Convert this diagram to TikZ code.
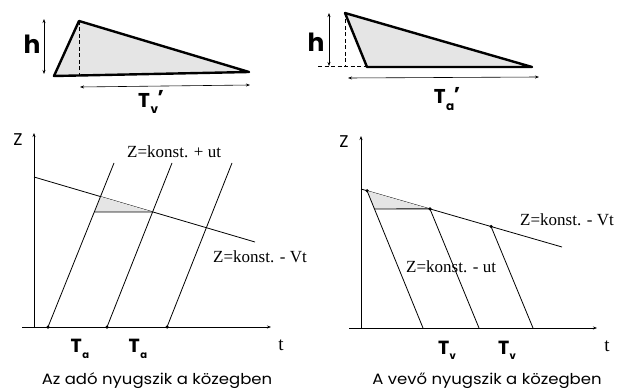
\documentclass[tikz,border=0pt]{standalone}
\usepackage{fontspec}
\setmainfont{Liberation Serif}
\newfontfamily\gothic{Poppins}
\usetikzlibrary{arrows.meta,calc}
\newcommand{\subT}[2]{T\kern0.5pt\raisebox{-0.28em}{\fontsize{#2}{#2}\selectfont #1}}
\newcommand{\subTp}[2]{T\kern0.5pt\raisebox{-0.32em}{\fontsize{#2}{#2}\selectfont #1}\kern-0.5pt\raisebox{0.12em}{’}}
\begin{document}
\begin{tikzpicture}[x=1pt,y=-1pt,
  thin line/.style={line width=0.8pt},
  tri/.style={line width=2.4pt,line join=round,fill=black!10},
  dimarrow/.style={line width=0.6pt,{Stealth[length=4pt,width=3pt]}-{Stealth[length=4pt,width=3pt]}},
  axis/.style={line width=0.8pt,-{Stealth[length=4pt,width=3pt]}},
  dashline/.style={line width=0.8pt,dashed,dash pattern=on 4pt off 2.5pt},
  eqlabel/.style={font=\fontsize{17}{17}\selectfont,inner sep=0pt,anchor=west},
  biglabel/.style={font=\gothic\bfseries\fontsize{25}{25}\selectfont,inner sep=0pt},
  toplabel/.style={font=\gothic\bfseries\fontsize{20}{20}\selectfont,inner sep=0pt},
  tlabel/.style={font=\gothic\bfseries\fontsize{19}{19}\selectfont,inner sep=0pt},
  caption/.style={font=\gothic\fontsize{15}{15}\selectfont,inner sep=0pt},
  axlabel/.style={font=\gothic\fontsize{17}{17}\selectfont,inner sep=0pt},
  tax/.style={font=\fontsize{19}{19}\selectfont,inner sep=0pt},
  dot/.style={circle,fill=black,inner sep=0pt,minimum size=3.5pt}]
\useasboundingbox (0,0) rectangle (618,390);

% ---------- top-left triangle ----------
\coordinate (tlA) at (54,76);
\coordinate (tlP) at (79,21);
\coordinate (tlB) at (249,72);
\coordinate (tlF) at (79,75);
\draw[tri] (tlA) -- (tlP) -- (tlB) -- cycle;
\draw[dashline] (tlP) -- (tlF);
\coordinate (tlh1) at (44,19);
\coordinate (tlh2) at (44,74);
\draw[dimarrow] (tlh1) -- (tlh2);
\node[biglabel] (tlh) at (32,44) {h};
\coordinate (tlw1) at (80,87);
\coordinate (tlw2) at (250,85);
\draw[dimarrow] (tlw1) -- (tlw2);
\node[toplabel] (tlT) at (151,102) {\subTp{v}{12}};

% ---------- top-right triangle ----------
\coordinate (trP) at (345,13);
\coordinate (trA) at (367,67);
\coordinate (trB) at (532,67);
\coordinate (trF) at (345,66);
\coordinate (trL) at (318,66);
\coordinate (trA2) at (367,66);
\draw[tri] (trA) -- (trP) -- (trB) -- cycle;
\draw[dashline] (trP) -- (trF);
\draw[dashline] (trL) -- (trA2);
\coordinate (trh1) at (329,13);
\coordinate (trh2) at (329,66);
\draw[dimarrow] (trh1) -- (trh2);
\node[biglabel] (trh) at (316,42) {h};
\coordinate (trw1) at (348,78);
\coordinate (trw2) at (539,77);
\draw[dimarrow] (trw1) -- (trw2);
\node[toplabel] (trT) at (447,99) {\subTp{a}{12}};

% ---------- bottom-left diagram ----------
\coordinate (blO) at (34,328);
\coordinate (blZ) at (34,133);
\coordinate (blt0) at (22,327);
\coordinate (blt1) at (271,327);
\draw[axis] (blO) -- (blZ);
\draw[axis] (blt0) -- (blt1);
\node[axlabel] (blZl) at (18,140) {Z};
\node[tax] (bltl) at (281,345) {t};

\coordinate (blU1) at (34,177);
\coordinate (blU2) at (255,242);
\draw[thin line] (blU1) -- (blU2);

\node[dot] (bld1) at (48,327) {};
\node[dot] (bld2) at (107,327) {};
\node[dot] (bld3) at (167,327) {};
\coordinate (ble1) at (114,163);
\coordinate (ble2) at (172,163);
\coordinate (ble3) at (232,163);

\coordinate (blX1) at (intersection of bld1.center--ble1 and blU1--blU2);
\coordinate (blX2) at (intersection of bld2.center--ble2 and blU1--blU2);
\coordinate (blX2b) at ($(blX2)+(-100,0)$);
\coordinate (blX3) at (intersection of bld1.center--ble1 and blX2--blX2b);
\fill[black!10] (blX1) -- (blX3) -- (blX2) -- cycle;
\draw[thin line] (blX3) -- (blX2);
\draw[thin line] (bld1.center) -- (ble1);
\draw[thin line] (bld2.center) -- (ble2);
\draw[thin line] (bld3.center) -- (ble3);

\node[eqlabel] (blq1) at (127,152) {Z=konst. + ut};
\node[eqlabel] (blq2) at (213,257) {Z=konst. - Vt};
\node[tlabel] (blTa1) at (80,349) {\subT{a}{10}};
\node[tlabel] (blTa2) at (138,349) {\subT{a}{10}};
\node[caption] (blcap) at (157,381) {\scalebox{1.1}[1]{Az adó nyugszik a közegben}};

% ---------- bottom-right diagram ----------
\coordinate (brO) at (361,328);
\coordinate (brZ) at (361,136);
\coordinate (brt0) at (349,328);
\coordinate (brt1) at (597,328);
\draw[axis] (brO) -- (brZ);
\draw[axis] (brt0) -- (brt1);
\node[axlabel] (brZl) at (344,142) {Z};
\node[tax] (brtl) at (607,346) {t};

\coordinate (brU1) at (361,189);
\coordinate (brU2) at (562,247);
\draw[thin line] (brU1) -- (brU2);
\coordinate (brp1) at ($(brU1)!0.03!(brU2)$);
\coordinate (brp2) at ($(brU1)!0.343!(brU2)$);
\coordinate (brp3) at ($(brU1)!0.647!(brU2)$);
\coordinate (brb1) at (423,328);
\coordinate (brb2) at (479,328);
\coordinate (brb3) at (533,328);
\coordinate (brp2b) at ($(brp2)+(-100,0)$);
\coordinate (brX) at (intersection of brp1--brb1 and brp2--brp2b);
\fill[black!10] (brp1) -- (brX) -- (brp2) -- cycle;
\draw[thin line] (brX) -- (brp2);
\draw[thin line] (brp1) -- (brb1);
\draw[thin line] (brp2) -- (brb2);
\draw[thin line] (brp3) -- (brb3);
\node[dot] (brd1) at (brp1) {};
\node[dot] (brd2) at (brp2) {};
\node[dot] (brd3) at (brp3) {};

\node[eqlabel] (brq1) at (520,220) {Z=konst. - Vt};
\node[eqlabel] (brq2) at (406,267) {Z=konst. - ut};
\node[tlabel] (brTv1) at (447,350) {\subT{v}{10}};
\node[tlabel] (brTv2) at (507,350) {\subT{v}{10}};
\node[caption] (brcap) at (487,381) {\scalebox{1.1}[1]{A vevő nyugszik a közegben}};
\end{tikzpicture}
\end{document}
